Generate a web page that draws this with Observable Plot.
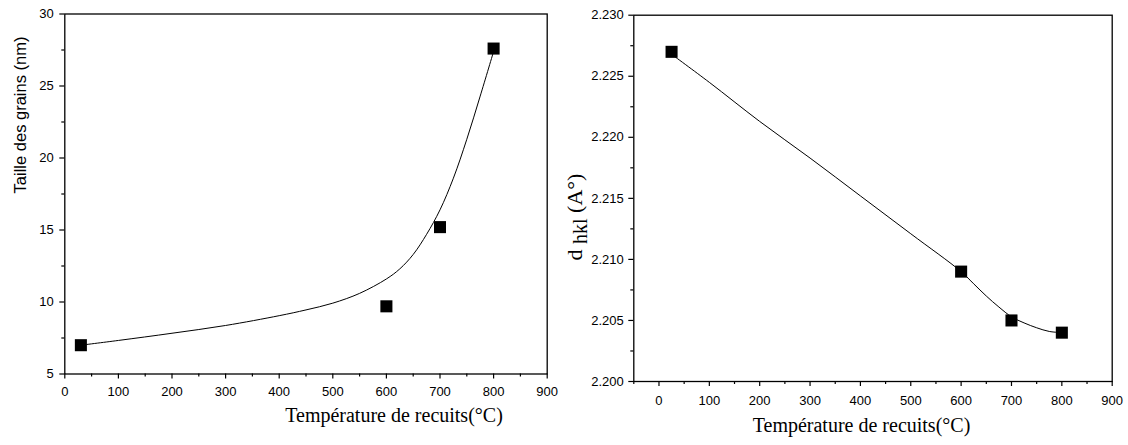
<!DOCTYPE html>
<html><head><meta charset="utf-8">
<script src="https://cdn.jsdelivr.net/npm/d3@7"></script>
<script src="https://cdn.jsdelivr.net/npm/@observablehq/plot@0.6"></script>
<style>
body{margin:0;background:#fff;}
#wrap{display:flex;width:1128px;height:445px;overflow:hidden;}
</style></head><body><div id="wrap"></div>
<script>
// ---- Left panel data: grain size vs annealing temperature ----
const leftTemp = [30, 600, 700, 800];
const leftSize = [7.0, 9.7, 15.2, 27.6];
const leftFitTemp = [30, 100, 200, 300, 400, 450, 500, 550, 600, 625, 650, 675, 700, 725, 750, 775, 800];
const leftFitSize = [7.0, 7.33, 7.83, 8.37, 9.05, 9.45, 9.92, 10.6, 11.6, 12.3, 13.3, 14.7, 16.4, 18.6, 21.3, 24.3, 27.4];
const leftXTicks = [0, 100, 200, 300, 400, 500, 600, 700, 800, 900];
const leftXMinor = [50, 150, 250, 350, 450, 550, 650, 750, 850];
const leftYTicks = [5, 10, 15, 20, 25, 30];
const leftYMinor = [7.5, 12.5, 17.5, 22.5, 27.5];
const leftYLabel = "Taille des grains (nm)";
const xLabel = "Température de recuits(°C)";

// ---- Right panel data: d_hkl vs annealing temperature ----
const rightTemp = [25, 600, 700, 800];
const rightD = [2.2270, 2.2090, 2.2050, 2.2040];
const rightFitTemp = [25, 100, 200, 300, 400, 500, 600, 625, 650, 675, 700, 725, 750, 775, 800];
const rightFitD = [2.2268, 2.2245, 2.2213, 2.2183, 2.2152, 2.2121, 2.2090, 2.2080, 2.2070, 2.2061, 2.2053, 2.2048, 2.2044, 2.2041, 2.2040];
const rightXTicks = [0, 100, 200, 300, 400, 500, 600, 700, 800, 900];
const rightXMinor = [-50, 50, 150, 250, 350, 450, 550, 650, 750, 850];
const rightYTicks = [2.200, 2.205, 2.210, 2.215, 2.220, 2.225, 2.230];
const rightYMinor = [2.2025, 2.2075, 2.2125, 2.2175, 2.2225, 2.2275];

const zip = (xs, ys) => xs.map((x, i) => ({x, y: ys[i]}));

const sans = "Liberation Sans, Arial, sans-serif";
const serif = "Liberation Serif, Times New Roman, serif";

const left = Plot.plot({
  width: 560, height: 445,
  marginLeft: 64.3, marginRight: 13.3, marginTop: 13.5, marginBottom: 71.5,
  x: {domain: [0, 900]},
  y: {domain: [5, 30]},
  style: {fontFamily: sans, fontSize: "13px", color: "#000", background: "white", overflow: "visible"},
  marks: [
    Plot.axisX({ticks: leftXTicks, tickSize: 5, tickPadding: 8, label: null, stroke: "#000", fill: "#000", strokeWidth: 1.2}),
    Plot.axisX({ticks: leftXMinor, tickSize: 3, tickFormat: () => "", label: null, stroke: "#000", strokeWidth: 1.2}),
    Plot.axisY({ticks: leftYTicks, tickSize: 5, tickPadding: 6, label: null, stroke: "#000", fill: "#000", strokeWidth: 1.2}),
    Plot.axisY({ticks: leftYMinor, tickSize: 3, tickFormat: () => "", label: null, stroke: "#000", strokeWidth: 1.2}),
    Plot.frame({stroke: "#000", strokeWidth: 1.3}),
    Plot.line(zip(leftFitTemp, leftFitSize), {x: "x", y: "y", curve: "catmull-rom", stroke: "#000", strokeWidth: 1}),
    Plot.dot(zip(leftTemp, leftSize), {x: "x", y: "y", symbol: "square", r: 6.8, fill: "#000", stroke: "none"}),
    Plot.text([xLabel], {text: d => d, frameAnchor: "bottom", dx: 88, dy: 47.8, fontSize: 20, fontFamily: serif, fill: "#000"})
  ]
});

const right = Plot.plot({
  width: 568, height: 445,
  marginLeft: 73.3, marginRight: 16.3, marginTop: 14.7, marginBottom: 64,
  x: {domain: [-50, 900]},
  y: {domain: [2.200, 2.230]},
  style: {fontFamily: sans, fontSize: "13px", color: "#000", background: "white", overflow: "visible"},
  marks: [
    Plot.axisX({ticks: rightXTicks, tickSize: 5, tickPadding: 9, label: null, stroke: "#000", fill: "#000", strokeWidth: 1.2}),
    Plot.axisX({ticks: rightXMinor, tickSize: 3, tickFormat: () => "", label: null, stroke: "#000", strokeWidth: 1.2}),
    Plot.axisY({ticks: rightYTicks, tickSize: 5, tickPadding: 5, tickFormat: d3.format(".3f"), label: null, stroke: "#000", fill: "#000", strokeWidth: 1.2}),
    Plot.axisY({ticks: rightYMinor, tickSize: 3, tickFormat: () => "", label: null, stroke: "#000", strokeWidth: 1.2}),
    Plot.frame({stroke: "#000", strokeWidth: 1.3}),
    Plot.line(zip(rightFitTemp, rightFitD), {x: "x", y: "y", curve: "catmull-rom", stroke: "#000", strokeWidth: 1}),
    Plot.dot(zip(rightTemp, rightD), {x: "x", y: "y", symbol: "square", r: 6.8, fill: "#000", stroke: "none"}),
    Plot.text([xLabel], {text: d => d, frameAnchor: "bottom", dx: -11.5, dy: 50.6, fontSize: 20, fontFamily: serif, fill: "#000"})
  ]
});

// Left y label
d3.select(left).append("text")
  .attr("transform", "translate(20,115) rotate(-90)")
  .attr("text-anchor", "middle")
  .attr("dy", "0.35em")
  .attr("font-family", sans)
  .attr("font-size", 16.5)
  .attr("fill", "#000")
  .text(leftYLabel);

// Right y label with subscript
const lab = d3.select(right).append("text")
  .attr("transform", "translate(15,217) rotate(-90)")
  .attr("text-anchor", "middle")
  .attr("dy", "0.32em")
  .attr("font-family", serif)
  .attr("font-size", 22)
  .attr("fill", "#000");
lab.append("tspan").text("d ");
lab.append("tspan").attr("dy", 5).attr("font-size", 20).text("hkl");
lab.append("tspan").attr("dy", -5).text(" (A°)");

document.getElementById("wrap").append(left, right);
</script>
</body></html>
